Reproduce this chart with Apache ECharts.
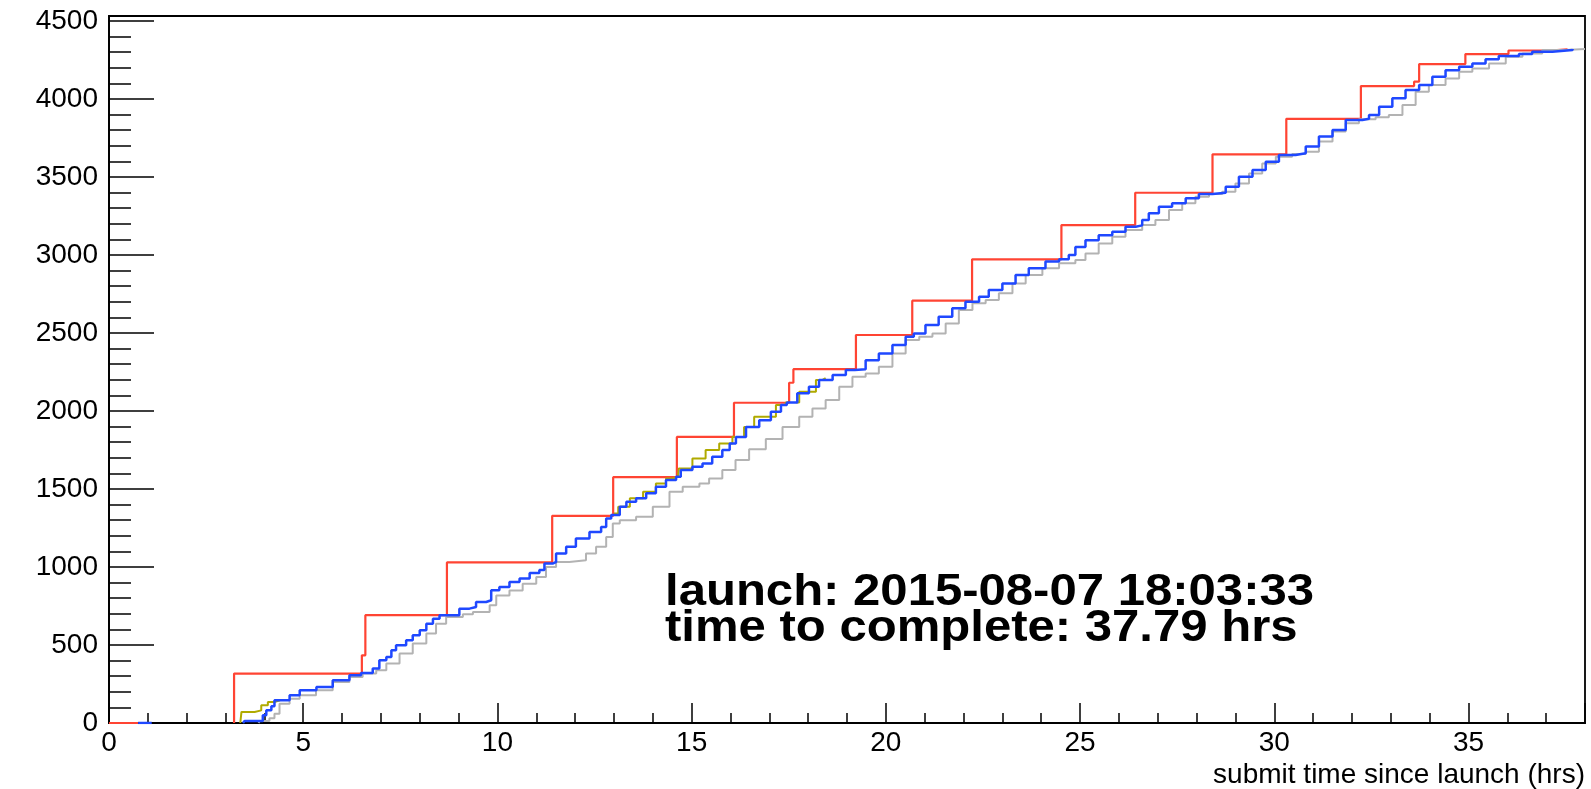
<!DOCTYPE html>
<html>
<head>
<meta charset="utf-8">
<script src="https://cdn.jsdelivr.net/npm/echarts@6/dist/echarts.min.js"></script>
<style>
html,body{margin:0;padding:0;background:#fff;}
#chart{width:1591px;height:789px;}
</style>
</head>
<body>
<div id="chart"></div>
<script>
// ---- data (x = submit time since launch in hrs, y = cumulative count) ----
const xTicks = [0, 5, 10, 15, 20, 25, 30, 35];
const yTicks = [0, 500, 1000, 1500, 2000, 2500, 3000, 3500, 4000, 4500];
const xAxisTitle = 'submit time since launch (hrs)';
const launchText = 'launch: 2015-08-07 18:03:33';
const completeText = 'time to complete: 37.79 hrs';

// red: submitted
const redSeries = [
  [0,0],[0.75,0],[0.75,'-'],[3.22,0],[3.22,317],[6.51,434],[6.60,691],[8.70,1029],
  [11.41,1328],[12.98,1576],[14.62,1834],[16.09,2053],[17.51,2181],[17.62,2268],
  [19.23,2487],[20.68,2707],[22.22,2972],[24.52,3192],[26.42,3399],[28.41,3645],
  [30.31,3873],[32.23,4083],[33.60,4111],[33.73,4224],[34.92,4288],[36.03,4311],
  [37.10,4318],[37.55,4318]
];

// blue
const blueSeries = [
  [0.75,0],[1.1,0],[1.1,'-'],[3.45,0],[3.49,13],[3.96,49],[4.05,81],[4.18,107],[4.26,146],
  [4.65,178],[4.91,210],[5.34,231],[5.76,274],[6.19,306],[6.49,321],[6.79,349],[6.96,402],
  [7.14,423],[7.27,466],[7.39,498],[7.65,530],[7.82,562],[8.0,594],[8.17,637],[8.34,669],
  [8.51,690],[9.02,733],[9.28,744],[9.45,776],[9.71,787],[9.84,851],[10.05,872],[10.31,904],
  [10.57,926],[10.83,962],[11.08,980],[11.21,1022],[11.42,1032],[11.51,1086],[11.77,1129],
  [12.02,1182],[12.37,1225],[12.67,1257],[12.80,1311],[12.93,1333],[13.15,1386],[13.32,1418],
  [13.57,1440],[13.83,1472],[14.08,1515],[14.34,1557],[14.60,1578],[14.72,1621],[15.02,1643],
  [15.28,1664],[15.53,1707],[15.79,1750],[15.98,1792],[16.14,1834],[16.40,1898],[16.74,1941],
  [17.04,1995],[17.30,2038],[17.45,2055],[17.72,2113],[18.02,2156],[18.28,2199],[18.63,2230],
  [18.97,2263],[19.20,2268],[19.48,2326],[19.82,2369],[20.17,2423],[20.51,2476],[20.72,2497],
  [21.02,2551],[21.36,2604],[21.71,2658],[22.05,2700],[22.40,2733],[22.65,2775],[23.0,2818],
  [23.34,2872],[23.68,2915],[24.11,2958],[24.46,2972],[24.71,3000],[24.88,3052],[25.14,3095],
  [25.48,3127],[25.83,3149],[26.17,3181],[26.43,3190],[26.60,3224],[26.77,3267],[27.03,3310],
  [27.37,3331],[27.72,3363],[28.06,3391],[28.41,3399],[28.75,3438],[29.09,3502],[29.44,3545],
  [29.78,3598],[30.12,3641],[30.55,3652],[30.81,3695],[31.15,3759],[31.50,3802],[31.84,3866],
  [32.27,3873],[32.44,3897],[32.70,3950],[33.04,4004],[33.38,4057],[33.73,4089],[34.07,4142],
  [34.41,4185],[34.76,4206],[35.10,4228],[35.44,4254],[35.78,4275],[36.30,4288],[36.64,4303],
  [37.16,4314],[37.68,4320]
];

// grey
const greySeries = [
  [3.85,0],[3.88,13],[4.13,30],[4.26,60],[4.39,124],[4.65,156],[4.91,178],[5.33,210],
  [5.76,263],[6.19,295],[6.53,317],[6.88,338],[7.14,381],[7.48,445],[7.82,509],[8.17,573],
  [8.42,637],[8.68,680],[9.11,697],[9.37,712],[9.80,755],[9.97,818],[10.31,850],[10.65,893],
  [11.0,936],[11.25,1000],[11.51,1032],[11.85,1043],[12.28,1086],[12.54,1129],[12.80,1193],
  [12.97,1279],[13.15,1300],[13.57,1322],[14.0,1386],[14.43,1482],[14.77,1515],[15.2,1536],
  [15.45,1568],[15.79,1621],[16.13,1686],[16.48,1755],[16.91,1820],[17.34,1898],[17.77,1963],
  [18.11,2016],[18.45,2070],[18.80,2156],[19.14,2219],[19.48,2241],[19.82,2283],[20.17,2369],
  [20.51,2455],[20.86,2476],[21.2,2497],[21.54,2561],[21.88,2647],[22.23,2690],[22.57,2711],
  [22.91,2754],[23.26,2818],[23.60,2872],[24.03,2915],[24.46,2947],[24.88,2968],[25.14,3010],
  [25.48,3074],[25.83,3117],[26.17,3160],[26.60,3192],[26.94,3224],[27.29,3288],[27.63,3331],
  [27.97,3374],[28.32,3391],[28.66,3406],[29.0,3459],[29.35,3523],[29.69,3587],[30.04,3630],
  [30.46,3647],[30.81,3662],[31.15,3727],[31.50,3791],[31.84,3845],[32.18,3870],[32.61,3883],
  [32.95,3897],[33.30,3961],[33.64,4047],[33.98,4089],[34.41,4132],[34.76,4174],[35.10,4196],
  [35.53,4228],[35.96,4270],[36.39,4292],[36.90,4314],[37.5,4320],[38.0,4320]
];

// olive (only where it is visible above blue)
const oliveSeries = [
  [3.38,0],[3.41,71],[3.75,81],[3.92,113],[4.09,134],[4.26,146],[4.40,146],[4.40,'-'],
  [13.0,1343],[13.11,1386],[13.41,1440],[13.75,1482],[14.08,1536],[14.34,1568],[14.55,1578],[14.55,'-'],
  [14.65,1578],[14.67,1632],[15.02,1696],[15.36,1750],[15.71,1792],[16.05,1835],[16.12,1835],[16.12,'-'],
  [16.15,1834],[16.35,1898],[16.61,1963],[17.17,2038],[17.42,2055],[17.50,2055],[17.50,'-'],
  [17.70,2055],[17.77,2123],[18.2,2199],[18.37,2210],[18.45,2210]
];

const FONT = '"Liberation Sans", Arial, Helvetica, sans-serif';

const chart = echarts.init(document.getElementById('chart'), null, {renderer: 'canvas'});

function mkLine(name, data, color, z, w) {
  return {
    name: name, type: 'line', step: 'end', data: data, showSymbol: false,
    symbol: 'none', connectNulls: false, animation: false, z: z,
    lineStyle: {color: color, width: w}, itemStyle: {color: color}
  };
}

chart.setOption({
  backgroundColor: '#ffffff',
  animation: false,
  grid: {
    left: 109, right: 6, top: 16, bottom: 66, containLabel: false, outerBoundsMode: 'none',
    show: true, borderColor: '#000', borderWidth: 1.8, backgroundColor: 'transparent'
  },
  xAxis: {
    type: 'value', min: 0, max: 38, interval: 5,
    name: xAxisTitle, nameLocation: 'end', nameGap: 0,
    nameTextStyle: {fontFamily: FONT, fontSize: 28, color: '#000', align: 'right', verticalAlign: 'top', padding: [38, 0, 0, 0]},
    axisLine: {show: true, onZero: false, lineStyle: {color: '#000', width: 1.8}},
    axisTick: {show: true, inside: true, length: 20, lineStyle: {color: '#000', width: 1.5}},
    minorTick: {show: true, splitNumber: 5, length: 10, lineStyle: {color: '#000', width: 1.5}},
    splitLine: {show: false}, minorSplitLine: {show: false},
    axisLabel: {
      fontFamily: FONT, fontSize: 28, color: '#000', margin: 6, showMaxLabel: false,
      formatter: function (v) { return xTicks.indexOf(v) >= 0 ? String(v) : ''; }
    }
  },
  yAxis: {
    type: 'value', min: 0, max: 4532, interval: 500,
    axisLine: {show: true, onZero: false, lineStyle: {color: '#000', width: 1.8}},
    axisTick: {show: true, inside: true, length: 45, lineStyle: {color: '#000', width: 1.5}},
    minorTick: {show: true, splitNumber: 5, length: 22, lineStyle: {color: '#000', width: 1.5}},
    splitLine: {show: false}, minorSplitLine: {show: false},
    axisLabel: {
      fontFamily: FONT, fontSize: 28, color: '#000', margin: 11, showMaxLabel: false,
      formatter: function (v) { return yTicks.indexOf(v) >= 0 ? String(v) : ''; }
    }
  },
  series: [
    mkLine('submitted', redSeries, '#ff4433', 2, 2.2),
    mkLine('grey', greySeries, '#b3b3b3', 3, 2),
    mkLine('olive', oliveSeries, '#b0aa00', 4, 2),
    mkLine('blue', blueSeries, '#1f48ff', 5, 2.5)
  ],
  graphic: [
    {type: 'text', x: 665, y: 593, scaleX: 1.115, z: 100,
     style: {text: launchText, x: 0, y: 0, fill: '#000', font: 'bold 44px ' + FONT, align: 'left', verticalAlign: 'middle'}},
    {type: 'text', x: 665, y: 629, scaleX: 1.115, z: 100,
     style: {text: completeText, x: 0, y: 0, fill: '#000', font: 'bold 44px ' + FONT, align: 'left', verticalAlign: 'middle'}}
  ]
});
</script>
</body>
</html>
